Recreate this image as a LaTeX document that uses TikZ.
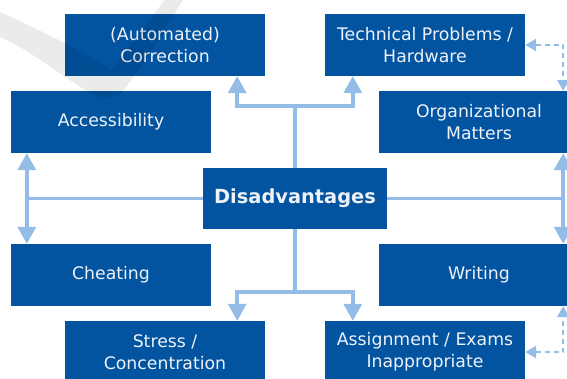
\documentclass[tikz,border=0pt]{standalone}
\usepackage{fontspec}
\setmainfont{DejaVu Sans}
\usetikzlibrary{arrows.meta}
\definecolor{boxblue}{HTML}{0254A0}
\definecolor{linkblue}{HTML}{93BCE6}
\definecolor{txt}{HTML}{EEF2F8}
\begin{document}
\begin{tikzpicture}[x=1pt,y=-1pt,
  box/.style={fill=boxblue,text=txt,minimum width=200pt,minimum height=62pt,inner sep=0pt,align=center,
     font=\fontsize{17.3}{21.8}\selectfont},
  hub/.style={fill=boxblue,text=txt,minimum width=184pt,minimum height=61pt,inner sep=0pt,
     font=\fontsize{19.4}{23}\selectfont\bfseries},
  link/.style={draw=linkblue,line width=3.5pt},
  arrowlink/.style={link,-{Triangle[width=18pt,length=17pt]}},
  biarrow/.style={link,{Triangle[width=18pt,length=17pt]}-{Triangle[width=18pt,length=17pt]}},
  dashlink/.style={draw=linkblue,line width=2.2pt,dash pattern=on 5pt off 4pt,
     {Triangle[width=12pt,length=11pt]}-{Triangle[width=12pt,length=11pt]}}]
\useasboundingbox (0,0) rectangle (567,378);
\clip (0,0) rectangle (567,378);
\node[box] (corr) at (165,45) {(Automated)\\Correction};
\node[box] (tech) at (425,45) {Technical Problems /\\Hardware};
\node[box] (acc) at (111,122) {Accessibility};
\node[box] (org) at (479,122) {Organizational\\Matters};
\node[hub] (dis) at (295,198.5) {Disadvantages};
\node[box] (cheat) at (111,275) {Cheating};
\node[box] (writ) at (479,275) {Writing};
\node[box] (stress) at (165,352) {Stress /\\Concentration};
\node[box] (assign) at (425,352) {Assignment / Exams\\Inappropriate};
% top
\coordinate (tj) at (295,106);
\draw[link] (dis.north) -- (tj);
\draw[arrowlink] (tj) -| ([xshift=-28pt]corr.south east);
\draw[arrowlink] (tj) -| ([xshift=28pt]tech.south west);
% bottom
\coordinate (bj) at (295,292);
\draw[link] (dis.south) -- (bj);
\draw[arrowlink] (bj) -| ([xshift=-28pt]stress.north east);
\draw[arrowlink] (bj) -| ([xshift=28pt]assign.north west);
% left
\coordinate (lj) at (27,198.5);
\draw[link] (dis.west) -- (lj);
\draw[biarrow] ([xshift=16pt]acc.south west) -- ([xshift=16pt]cheat.north west);
% right
\coordinate (rj) at (563,198.5);
\draw[link] (dis.east) -- (rj);
\draw[biarrow] ([xshift=-16pt]org.south east) -- ([xshift=-16pt]writ.north east);
% dashed
\draw[dashlink] (tech.east) -| ([xshift=-16pt]org.north east);
\draw[dashlink] (assign.east) -| ([xshift=-16pt]writ.south east);
% watermark
\fill[black,opacity=0.08] (0,12) .. controls (40,30) and (80,50) .. (112,70)
  .. controls (130,45) and (150,20) .. (166,-2) -- (184,-2)
  .. controls (165,30) and (140,70) .. (120,95)
  .. controls (110,100) and (100,98) .. (90,93)
  .. controls (60,75) and (30,50) .. (0,37) -- cycle;
\end{tikzpicture}
\end{document}
